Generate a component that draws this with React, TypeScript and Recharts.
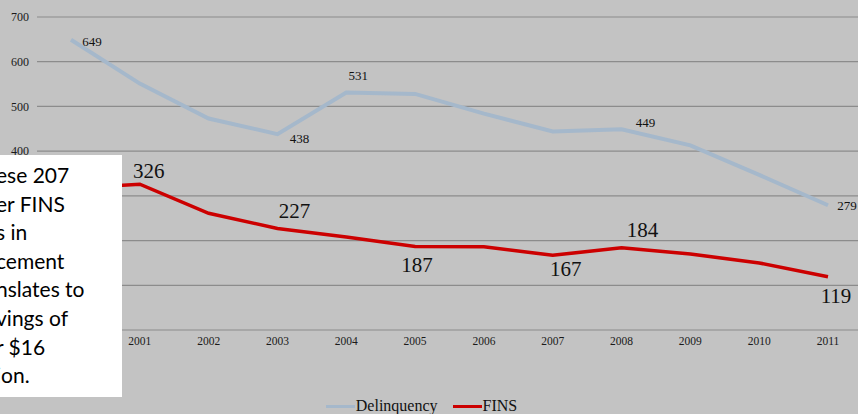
import { CartesianGrid, LabelList, Legend, Line, LineChart, XAxis, YAxis } from 'recharts';

const years = ['2000', '2001', '2002', '2003', '2004', '2005', '2006', '2007', '2008', '2009', '2010', '2011'];
const delinquency = [649, 551, 473, 438, 531, 528, 484, 444, 449, 413, 347, 279];
const fins = [317, 326, 261, 227, 208, 187, 186, 167, 184, 170, 150, 119];
const yTicks = [0, 100, 200, 300, 400, 500, 600, 700];
const noteLines = ['ese 207', 'er FINS', 's in', 'cement', 'nslates to', 'vings of', 'r $16', 'ion.'];

const data = years.map((year, i) => ({ year, delinquency: delinquency[i], fins: fins[i] }));

// which points carry a value label, and where the label sits relative to the point
const delinquencyLabelOffsets: Record<number, [number, number]> = {
  0: [21, 2],
  3: [22, 4],
  4: [12, -17],
  8: [24, -7],
  11: [19, 0],
};
const finsLabelOffsets: Record<number, [number, number]> = {
  1: [9, -13],
  3: [17, -17],
  5: [2, 19],
  7: [13, 14],
  8: [21, -18],
  11: [8, 19],
};

const SERIF = '"Liberation Serif", "Times New Roman", serif';
const BG = '#c3c3c3';

function makeLabel(offsets: Record<number, [number, number]>, fontSize: number) {
  return (props: any) => {
    const { x, y, value, index } = props;
    const off = offsets[index];
    if (!off) return null;
    return (
      <text
        x={Number(x) + off[0]}
        y={Number(y) + off[1]}
        textAnchor="middle"
        dominantBaseline="central"
        fontFamily={SERIF}
        fontSize={fontSize}
        fill="#111"
      >
        {value}
      </text>
    );
  };
}

const legendItems = [
  { label: 'Delinquency', color: '#a5b8cb' },
  { label: 'FINS', color: '#cc0000' },
];

function LegendContent() {
  return (
    <div
      style={{
        display: 'flex',
        justifyContent: 'center',
        alignItems: 'center',
        height: 16,
        paddingRight: 4,
        fontFamily: SERIF,
        fontSize: 16,
        color: '#111',
      }}
    >
      {legendItems.map((item) => (
        <span key={item.label} style={{ display: 'inline-flex', alignItems: 'center', marginRight: 15 }}>
          <span style={{ display: 'inline-block', width: 29, height: 3, background: item.color, marginRight: 1 }} />
          {item.label}
        </span>
      ))}
    </div>
  );
}

export default function App() {
  return (
    <div
      style={{
        position: 'absolute',
        left: 0,
        top: 0,
        width: 858,
        height: 414,
        overflow: 'hidden',
        background: BG,
      }}
    >
      <LineChart width={862} height={414} data={data} margin={{ top: 17, right: 0, bottom: 0, left: 0 }}>
        <CartesianGrid stroke="#8c8c8c" strokeWidth={1.2} vertical={false} />
        <XAxis
          dataKey="year"
          padding={{ left: 34, right: 34 }}
          axisLine={false}
          tickLine={false}
          tickMargin={1}
          height={68}
          interval={0}
          tick={{ fill: '#1a1a1a', fontSize: 11.5, fontFamily: SERIF }}
        />
        <YAxis
          domain={[0, 700]}
          ticks={yTicks}
          width={37}
          axisLine={false}
          tickLine={false}
          tick={{ fill: '#1a1a1a', fontSize: 12, fontFamily: SERIF }}
        />
        <Legend verticalAlign="bottom" content={<LegendContent />} />
        <Line
          type="linear"
          dataKey="delinquency"
          name="Delinquency"
          stroke="#a5b8cb"
          strokeWidth={4}
          dot={false}
          isAnimationActive={false}
        >
          <LabelList dataKey="delinquency" content={makeLabel(delinquencyLabelOffsets, 13)} />
        </Line>
        <Line
          type="linear"
          dataKey="fins"
          name="FINS"
          stroke="#cc0000"
          strokeWidth={3.5}
          dot={false}
          isAnimationActive={false}
        >
          <LabelList dataKey="fins" content={makeLabel(finsLabelOffsets, 21)} />
        </Line>
      </LineChart>
      <div
        style={{
          position: 'absolute',
          left: 0,
          top: 155,
          width: 122,
          height: 242,
          background: '#ffffff',
          overflow: 'hidden',
          boxSizing: 'border-box',
          paddingTop: 6,
          fontFamily: 'Lato, "Open Sans", sans-serif',
          fontSize: 21,
          lineHeight: '28.6px',
          color: '#000',
          whiteSpace: 'nowrap',
        }}
      >
        {noteLines.map((line) => (
          <div key={line} style={{ marginLeft: -4 }}>
            {line}
          </div>
        ))}
      </div>
    </div>
  );
}
